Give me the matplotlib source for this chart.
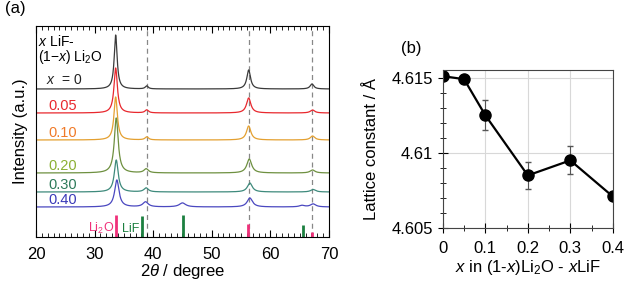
import numpy as np
import matplotlib
matplotlib.use("Agg")
import matplotlib.pyplot as plt
from matplotlib.ticker import MultipleLocator, FormatStrFormatter

plt.rcParams['font.family'] = ['Liberation Sans', 'DejaVu Sans']
plt.rcParams['mathtext.fontset'] = 'custom'
plt.rcParams['mathtext.rm'] = 'Liberation Sans'
plt.rcParams['mathtext.it'] = 'Liberation Sans:italic'

# ---- panel (a): XRD patterns, peaks ----
labels = ['0', '0.05', '0.10', '0.20', '0.30', '0.40']
curve_colors = ['#3a3a3a', '#e8282e', '#e4a030', '#6e9040', '#3e8a7c', '#4a48c0']
label_colors = ['#222222', '#e8282e', '#f07a28', '#8cb034', '#2e7a5a', '#3a3ab8']
offsets = [148, 124, 97, 64, 45, 30]
# peak centres (deg), heights (a.u.), half widths (deg) for each sample
peak_pos = [
    [33.6, 38.9, 56.3, 67.1],
    [33.6, 38.9, 56.3, 67.2],
    [33.6, 38.9, 56.3, 67.2],
    [33.7, 38.8, 56.4, 67.2],
    [33.7, 38.8, 56.5, 67.3],
    [33.8, 38.7, 45.0, 56.5, 65.4, 67.3],
]
peak_h = [
    [54, 3, 19, 5],
    [45, 3, 15, 3],
    [43, 3, 14, 4],
    [55, 4, 14, 3],
    [32, 4, 9, 2.5],
    [27, 5, 4, 9, 1.5, 3],
]
peak_w = [
    [0.3, 0.3, 0.38, 0.38],
    [0.35, 0.35, 0.45, 0.45],
    [0.35, 0.35, 0.45, 0.45],
    [0.4, 0.45, 0.5, 0.5],
    [0.4, 0.45, 0.5, 0.5],
    [0.45, 0.55, 0.65, 0.55, 0.55, 0.55],
]
dash_pos = [38.9, 56.3, 67.1]
li2o_ref = [33.6, 56.2, 67.1]
li2o_h = [22, 13, 5]
lif_ref = [38.1, 45.1, 65.6]
lif_h = [21, 22, 12]

# ---- panel (b): lattice constant ----
xb = [0, 0.05, 0.1, 0.2, 0.3, 0.4]
lat = [4.6151, 4.6149, 4.6125, 4.6085, 4.6095, 4.6071]
lat_err = [0.0001, 0.0001, 0.001, 0.0009, 0.00093, 0.0001]

fig = plt.figure(figsize=(6.39, 2.84), dpi=100)
ax = fig.add_axes([0.0563, 0.1655, 0.4585, 0.743])

tt = np.linspace(20, 70, 2000)
for i in range(len(labels)):
    y = np.full_like(tt, offsets[i], dtype=float)
    for c, h, w in zip(peak_pos[i], peak_h[i], peak_w[i]):
        y += h / (1 + ((tt - c) / w) ** 2)
    ax.plot(tt, y, color=curve_colors[i], lw=0.9)

for d in dash_pos:
    ax.axvline(d, color='#888888', ls=(0, (4, 3)), lw=0.9, zorder=0)
ax.vlines(li2o_ref, 0, li2o_h, color='#f0307a', lw=2)
ax.vlines(lif_ref, 0, lif_h, color='#1c8040', lw=2)
ax.text(28.8, 5, r'Li$_2$O', color='#f0307a', fontsize=9)
ax.text(34.6, 5, 'LiF', color='#1c8040', fontsize=9)

ax.text(20.4, 191, r'$x$ LiF-', fontsize=10)
ax.text(20.4, 176, r'(1$-x$) Li$_2$O', fontsize=10)
ax.text(21.7, 153, r'$x$  = 0', fontsize=10, color=label_colors[0])
for i in range(1, len(labels)):
    ax.text(27.0, offsets[i] + 3, labels[i], color=label_colors[i],
            fontsize=10.5, ha='right')

ax.set_xlim(20, 70)
ax.set_ylim(0, 211)
ax.xaxis.set_major_locator(MultipleLocator(10))
ax.xaxis.set_minor_locator(MultipleLocator(1))
ax.tick_params(axis='x', which='both', direction='in', top=True,
               labelsize=12, pad=7)
ax.tick_params(axis='x', which='major', length=5)
ax.tick_params(axis='x', which='minor', length=3)
ax.set_yticks([])
ax.set_xlabel(r'2$\theta$ / degree', fontsize=12, labelpad=0)
ax.set_ylabel('Intensity (a.u.)', fontsize=12, labelpad=6)
fig.text(0.008, 0.955, '(a)', fontsize=12)

# panel (b)
bx = fig.add_axes([0.693, 0.197, 0.266, 0.556])
bx.errorbar(xb, lat, yerr=lat_err, color='black', lw=1.6, marker='o',
            ms=8, ecolor='#555555', elinewidth=0.8, capsize=2.5)
bx.set_xlim(0, 0.4)
bx.set_ylim(4.605, 4.6155)
bx.xaxis.set_major_locator(MultipleLocator(0.1))
bx.xaxis.set_minor_locator(MultipleLocator(0.05))
bx.yaxis.set_major_locator(MultipleLocator(0.005))
bx.yaxis.set_minor_locator(MultipleLocator(0.001))
bx.xaxis.set_major_formatter(FormatStrFormatter('%g'))
bx.yaxis.set_major_formatter(FormatStrFormatter('%g'))
bx.tick_params(which='both', direction='inout', labelsize=12)
bx.tick_params(axis='x', pad=6)
bx.tick_params(which='major', length=7)
bx.tick_params(which='minor', length=5)
bx.grid(True, which='major', color='#d8d8d8', lw=0.8)
bx.set_axisbelow(True)
for s in bx.spines.values():
    s.set_color('#444444')
bx.set_xlabel(r'$x$ in (1-$x$)Li$_2$O - $x$LiF', fontsize=12, labelpad=1)
bx.set_ylabel('Lattice constant / Å', fontsize=12, labelpad=9)
fig.text(0.627, 0.815, '(b)', fontsize=12)

fig.savefig('out.png', dpi=100)
